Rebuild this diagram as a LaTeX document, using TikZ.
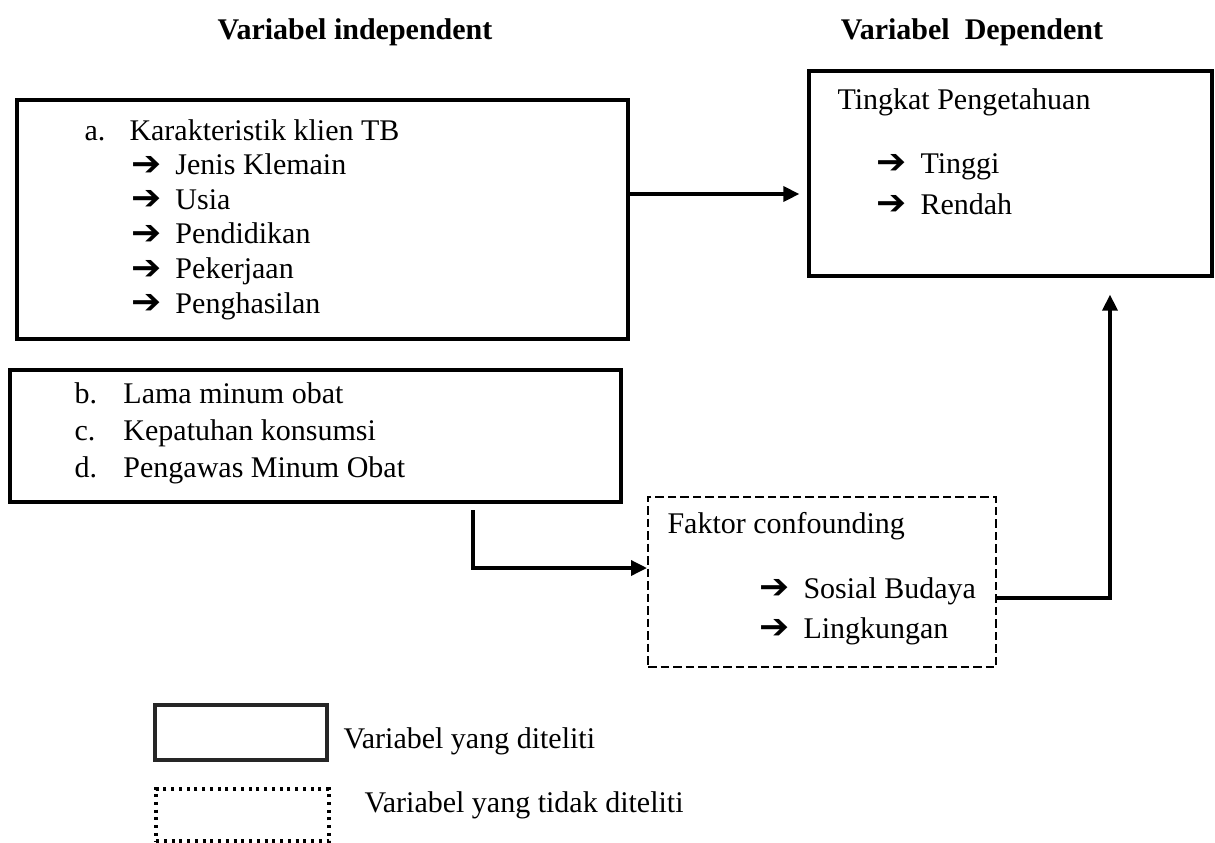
\documentclass[tikz,border=0pt]{standalone}
\usepackage{fontspec}
\usepackage{graphicx}
\setmainfont{Liberation Serif}
\newfontfamily\dejavu{DejaVu Sans}
\usetikzlibrary{arrows.meta,fit}
\newcommand\arr{\raisebox{-0.3pt}{\scalebox{1.2}[1.15]{\dejavu\bfseries ➔}}}
\newcommand\itm[1]{\makebox[17.6pt][l]{\arr}#1}
\begin{document}
\begin{tikzpicture}[x=0.4pt,y=-0.4pt,
  every node/.style={font=\fontsize{12pt}{14pt}\selectfont},
  txt/.style={anchor=base west,inner sep=0pt},
  ttl/.style={anchor=base,inner sep=0pt,font=\fontsize{12pt}{14pt}\selectfont\bfseries},
  thickbox/.style={draw,line width=1.65pt,inner sep=0pt},
  depstyle/.style={draw,line width=1.3pt,inner sep=0pt},
  dashbox/.style={draw,line width=0.8pt,dash pattern=on 3.4pt off 1.6pt,inner sep=0pt},
  legsolid/.style={draw=black!85,line width=1.5pt,inner sep=0pt},
  legdot/.style={draw,line width=1.3pt,dash pattern=on 1.2pt off 1.9pt,inner sep=0pt},
  conn/.style={line width=1.4pt,-{Triangle[length=6.4pt,width=6pt]}}]
\useasboundingbox (0,0) rectangle (1215,842);

% titles
\node[ttl] (t1) at (355,39) {Variabel independent};
\node[ttl] (t2) at (972,39) {Variabel\ \ Dependent};

% boxes
\node[thickbox,fit={(17,100) (628,339)}] (boxA) {};
\node[thickbox,fit={(10,370) (621,502)}] (boxB) {};
\node[depstyle,fit={(809,71) (1212,276)}] (dep) {};
\node[dashbox,fit={(648,497) (996,667)}] (conf) {};

% box A text
\node[txt] (a0) at (84,140) {\makebox[18pt][l]{a.}Karakteristik klien TB};
\node[txt] (a1) at (131,174.6) {\itm{Jenis Klemain}};
\node[txt] (a2) at (131,209.2) {\itm{Usia}};
\node[txt] (a3) at (131,243.8) {\itm{Pendidikan}};
\node[txt] (a4) at (131,278.4) {\itm{Pekerjaan}};
\node[txt] (a5) at (131,313) {\itm{Penghasilan}};

% box B text
\node[txt] (b1) at (74,403) {\makebox[19.6pt][l]{b.}Lama minum obat};
\node[txt] (b2) at (74,440) {\makebox[19.6pt][l]{c.}Kepatuhan konsumsi};
\node[txt] (b3) at (74,477) {\makebox[19.6pt][l]{d.}Pengawas Minum Obat};

% dependent text
\node[txt] (d0) at (837,109) {Tingkat Pengetahuan};
\node[txt] (d1) at (876,173) {\itm{Tinggi}};
\node[txt] (d2) at (876,214) {\itm{Rendah}};

% confounding text
\node[txt] (f0) at (667,533) {Faktor confounding};
\node[txt] (f1) at (759,598) {\itm{Sosial Budaya}};
\node[txt] (f2) at (759,638) {\itm{Lingkungan}};

% connectors
\coordinate (yA) at (0,194);
\draw[conn,shorten >=3.2pt] (boxA.east |- yA) -- (dep.west |- yA);

\coordinate (bstart) at (473,510);
\coordinate (bcorner) at (473,568);
\draw[conn] (bstart) -- (bcorner) -- (conf.west |- bcorner);

\coordinate (ccorner) at (1110,598);
\draw[conn,shorten >=6.8pt] (conf.east |- ccorner) -- (ccorner) -- (dep.south -| ccorner);

% legend
\node[legsolid,fit={(155,705) (327,760)}] (leg1) {};
\node[legdot,fit={(156,789) (329,841)}] (leg2) {};
\node[txt] (l1) at (343,748) {Variabel yang diteliti};
\node[txt] (l2) at (364,812) {Variabel yang tidak diteliti};
\end{tikzpicture}
\end{document}
